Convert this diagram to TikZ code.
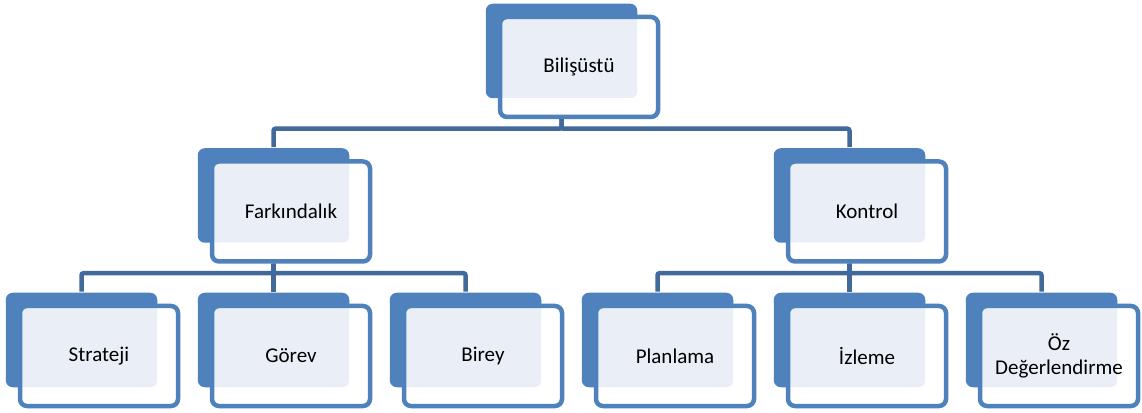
\documentclass[tikz,border=0pt]{standalone}
\usepackage{fontspec}
\setmainfont{Carlito}
\usetikzlibrary{trees,backgrounds}
\definecolor{boxblue}{HTML}{4F81BD}
\definecolor{boxlight}{HTML}{EAEFF7}
\definecolor{linkblue}{HTML}{41699B}

\begin{document}
\begin{tikzpicture}[x=1pt,y=1pt,
    frontbox/.style={fill=white, rounded corners=7pt, line width=4.5pt,
      minimum width=158pt, minimum height=100pt, align=center,
      font=\fontsize{21}{24}\selectfont,
      path picture={\fill[boxlight, rounded corners=6pt]
        ([shift={(-14pt,13pt)}]path picture bounding box.north west) rectangle
        ([shift={(-21pt,19pt)}]path picture bounding box.south east);},
      postaction={draw=boxblue}},
    backbox/.style={fill=boxblue, rounded corners=7pt},
    every node/.style={frontbox},
    level distance=144.5pt,
    level 1/.style={sibling distance=576pt},
    level 2/.style={sibling distance=192pt},
    edge from parent/.style={draw=linkblue, line width=4.5pt, rounded corners=2pt},
    edge from parent path={([xshift=-17.5pt]\tikzparentnode.south)
      |- ([shift={(-17.5pt,30.5pt)}]\tikzchildnode.north)
      -- ([shift={(-17.5pt,12pt)}]\tikzchildnode.north)}]
      \useasboundingbox (0,0) rectangle (1142,412);
      \node (bilisustu) at (579,345) {Bilişüstü}
        child {
          node (farkindalik) {Farkındalık}
          child {node (strateji) {Strateji}}
          child {node (gorev) {Görev}}
          child {node (birey) {Birey}}
        }
        child {
          node (kontrol) {Kontrol}
          child {node (planlama) {Planlama}}
          child {node (izleme) {İzleme}}
          child {node (ozdeg) {Öz\\Değerlendirme}}
        }
      ;
      \begin{scope}[on background layer]
        \foreach \n in {bilisustu,farkindalik,kontrol,strateji,gorev,birey,planlama,izleme,ozdeg}
          \fill[backbox] ([shift={(-12pt,11pt)}]\n.north west) rectangle
            ([shift={(-23pt,21pt)}]\n.south east);
      \end{scope}
    \end{tikzpicture}
\end{document}
